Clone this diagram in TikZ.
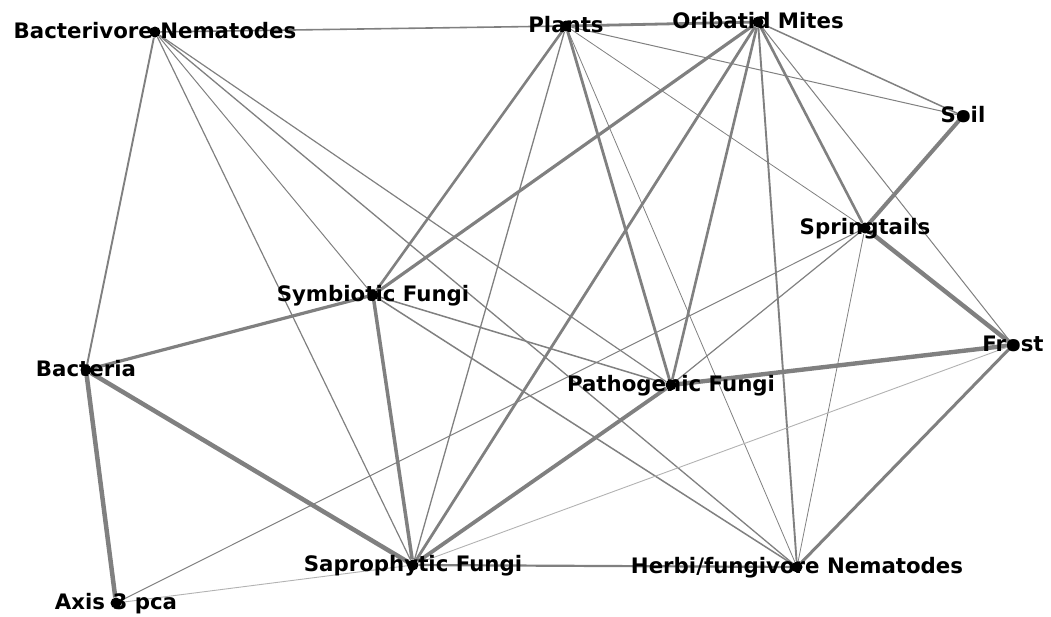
\documentclass[tikz,border=0pt]{standalone}
\usepackage{fontspec}
\setmainfont{DejaVu Sans}
\begin{document}
\begin{tikzpicture}[x=1pt,y=-1pt,
  dot/.style={circle,fill=black,inner sep=0pt,minimum size=11pt},
  lab/.style={anchor=base,inner sep=0pt,font=\fontsize{21.3}{25}\selectfont\bfseries},
  ed/.style={draw={rgb,255:red,128;green,128;blue,128},line width=#1},
  lt/.style={draw={rgb,255:red,178;green,178;blue,178},line width=#1}]
\useasboundingbox (0,0) rectangle (1051,616);
% nodes (dots)
\node[dot] (BN) at (155,32) {};
\node[dot] (Pl) at (566,26) {};
\node[dot] (OM) at (758,22) {};
\node[dot] (So) at (963,116) {};
\node[dot] (Sp) at (865,228) {};
\node[dot] (SF) at (373,295) {};
\node[dot] (Fr) at (1013,345) {};
\node[dot] (Ba) at (86,370) {};
\node[dot] (PF) at (671,385) {};
\node[dot] (Sa) at (413,565) {};
\node[dot] (HN) at (797,567) {};
\node[dot] (Ax) at (116,603) {};
% edges
\draw[ed=1.6] (BN) -- (Pl);
\draw[ed=1.9] (BN) -- (Ba);
\draw[ed=1.0] (BN) -- (SF);
\draw[ed=1.2] (BN) -- (Sa);
\draw[ed=1.2] (BN) -- (PF);
\draw[ed=1.3] (BN) -- (HN);
\draw[ed=2.8] (Pl) -- (OM);
\draw[ed=2.6] (Pl) -- (SF);
\draw[ed=1.3] (Pl) -- (Sa);
\draw[ed=2.8] (Pl) -- (PF);
\draw[ed=0.8] (Pl) -- (HN);
\draw[ed=1.0] (Pl) -- (So);
\draw[ed=0.8] (Pl) -- (Sp);
\draw[ed=3.2] (OM) -- (SF);
\draw[ed=2.8] (OM) -- (Sa);
\draw[ed=2.6] (OM) -- (PF);
\draw[ed=1.9] (OM) -- (HN);
\draw[ed=2.6] (OM) -- (Sp);
\draw[ed=1.5] (OM) -- (So);
\draw[ed=1.0] (OM) -- (Fr);
\draw[ed=4.0] (Sp) -- (So);
\draw[ed=4.4] (Sp) -- (Fr);
\draw[ed=1.2] (Sp) -- (PF);
\draw[ed=0.8] (Sp) -- (HN);
\draw[ed=1.0] (Sp) -- (Ax);
\draw[ed=3.2] (SF) -- (Ba);
\draw[ed=3.5] (SF) -- (Sa);
\draw[ed=1.5] (SF) -- (PF);
\draw[ed=1.5] (SF) -- (HN);
\draw[ed=4.4] (PF) -- (Fr);
\draw[ed=3.8] (PF) -- (Sa);
\draw[lt=0.9] (Fr) -- (Sa);
\draw[ed=3.0] (Fr) -- (HN);
\draw[ed=4.5] (Ba) -- (Sa);
\draw[ed=4.5] (Ba) -- (Ax);
\draw[lt=0.9] (Ax) -- (Sa);
\draw[ed=2.2] (Sa) -- (HN);
% labels
\node[lab] (BNl) at ([yshift=-6pt]BN.center) {Bacterivore Nematodes};
\node[lab] (Pll) at ([yshift=-6pt]Pl.center) {Plants};
\node[lab] (OMl) at ([yshift=-6pt]OM.center) {Oribatid Mites};
\node[lab] (Sol) at ([yshift=-6pt]So.center) {Soil};
\node[lab] (Spl) at ([yshift=-6pt]Sp.center) {Springtails};
\node[lab] (SFl) at ([yshift=-6pt]SF.center) {Symbiotic Fungi};
\node[lab] (Frl) at ([yshift=-6pt]Fr.center) {Frost};
\node[lab] (Bal) at ([yshift=-6pt]Ba.center) {Bacteria};
\node[lab] (PFl) at ([yshift=-6pt]PF.center) {Pathogenic Fungi};
\node[lab] (Sal) at ([yshift=-6pt]Sa.center) {Saprophytic Fungi};
\node[lab] (HNl) at ([yshift=-6pt]HN.center) {Herbi/fungivore Nematodes};
\node[lab] (Axl) at ([yshift=-6pt]Ax.center) {Axis 3 pca};
\end{tikzpicture}
\end{document}
